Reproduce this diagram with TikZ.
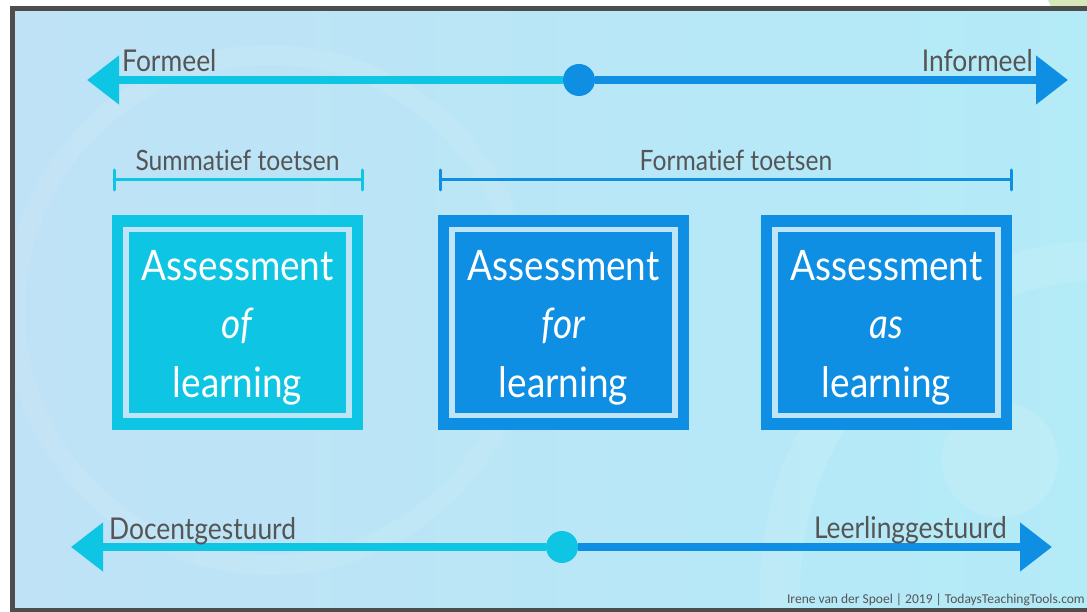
\documentclass[tikz,border=0pt]{standalone}
\usepackage{fontspec}
\setmainfont{Lato}[FakeStretch=0.88, Ligatures=NoCommon]
\newfontfamily\creditfont{Carlito}
\usepackage{xcolor}
\usepackage{tikz}
\usetikzlibrary{arrows.meta}
\definecolor{cyanA}{RGB}{15,197,228}
\definecolor{blueA}{RGB}{14,143,227}
\definecolor{labelgray}{RGB}{85,85,85}
\definecolor{framegray}{RGB}{77,77,77}
\definecolor{paleline}{RGB}{190,229,247}
\definecolor{bgleft}{RGB}{191,226,246}
\definecolor{bgright}{RGB}{179,235,247}
\definecolor{greenblob}{RGB}{214,232,186}

\begin{document}
\begin{tikzpicture}[x=1pt,y=-1pt,
    lbl/.style={text=labelgray, font=\fontsize{30}{36}\selectfont, inner sep=0pt},
    brlbl/.style={text=labelgray, font=\fontsize{28}{34}\selectfont, inner sep=0pt},
    outerbox/.style={minimum width=251pt, minimum height=215pt, inner sep=0pt},
    innerbox/.style={draw=paleline, line width=5.5pt, minimum width=223pt, minimum height=186pt, inner sep=0pt},
    boxtext/.style={text=white, align=center, font=\fontsize{42}{58.5}\selectfont, inner sep=0pt},
    bar/.style={line width=8.5pt},
    head/.style={-{Triangle[length=32pt, width=47pt]}},
    dot/.style={shape=circle, minimum size=32pt, inner sep=0pt},
    bracket/.style={line width=3pt, line cap=round}]
    \clip (0,0) rectangle (1087,612);
    \fill[white] (0,0) rectangle (1087,612);
    \fill[greenblob] (1082,-12) circle (36);
    \fill[left color=bgleft, right color=bgright] (12.5,8.5) rectangle (1100,610);
    \draw[white, opacity=0.08, line width=20pt] (270,310) circle (255);
    \draw[white, opacity=0.1, line width=40pt] (1110,590) circle (330);
    \fill[white, opacity=0.12] (1000,460) circle (58);
    \draw[framegray, line width=5pt] (12.5,8.5) rectangle (1100,610);

    \node[dot, fill=blueA] (fdot) at (579,80) {};
    \coordinate (ftipL) at (87,80);
    \coordinate (ftipR) at (1068,80);
    \draw[bar, cyanA, head] (fdot) -- (ftipL);
    \draw[bar, blueA, head] (fdot) -- (ftipR);
    \node[lbl, anchor=base west] (formeel) at (122,72) {Formeel};
    \node[lbl, anchor=base east] (informeel) at (1033,72) {Informeel};

    \coordinate (sumL) at (114,180);
    \coordinate (sumR) at (362,180);
    \coordinate (forL) at (440,180);
    \coordinate (forR) at (1011,180);
    \draw[bracket, cyanA] ([yshift=10pt]sumL) -- ([yshift=-10pt]sumL) (sumL) -- (sumR) ([yshift=10pt]sumR) -- ([yshift=-10pt]sumR);
    \draw[bracket, blueA] ([yshift=10pt]forL) -- ([yshift=-10pt]forL) (forL) -- (forR) ([yshift=10pt]forR) -- ([yshift=-10pt]forR);
    \node[brlbl, anchor=base] (summ) at (237.5,171) {Summatief toetsen};
    \node[brlbl, anchor=base] (form) at (736,171) {Formatief toetsen};

    \node[outerbox, fill=cyanA] (aol) at (237.5,322.5) {};
    \node[innerbox] (aol-frame) at (aol.center) {};
    \node[boxtext] (aol-text) at (237.5,327.5) {Assessment\\\textit{of}\\learning};
    \node[outerbox, fill=blueA] (afl) at (563.5,322.5) {};
    \node[innerbox] (afl-frame) at (afl.center) {};
    \node[boxtext] (afl-text) at (563.5,327.5) {Assessment\\\textit{for}\\learning};
    \node[outerbox, fill=blueA] (aal) at (886.5,322.5) {};
    \node[innerbox] (aal-frame) at (aal.center) {};
    \node[boxtext] (aal-text) at (886.5,327.5) {Assessment\\\textit{as}\\learning};

    \node[dot, fill=cyanA] (ldot) at (562,547) {};
    \coordinate (ltipL) at (71,547);
    \coordinate (ltipR) at (1052,547);
    \draw[bar, cyanA, head] (ldot) -- (ltipL);
    \draw[bar, blueA, head] (ldot) -- (ltipR);
    \node[lbl, anchor=base west] (docent) at (109,539) {Docentgestuurd};
    \node[lbl, anchor=base east] (leerling) at (1007,538) {Leerlinggestuurd};

    \node[anchor=base east, inner sep=0pt, text=labelgray, font=\creditfont\fontsize{13.5}{16}\selectfont] (credit) at (1085,603) {Irene van der Spoel | 2019 | TodaysTeachingTools.com};
\end{tikzpicture}
\end{document}
